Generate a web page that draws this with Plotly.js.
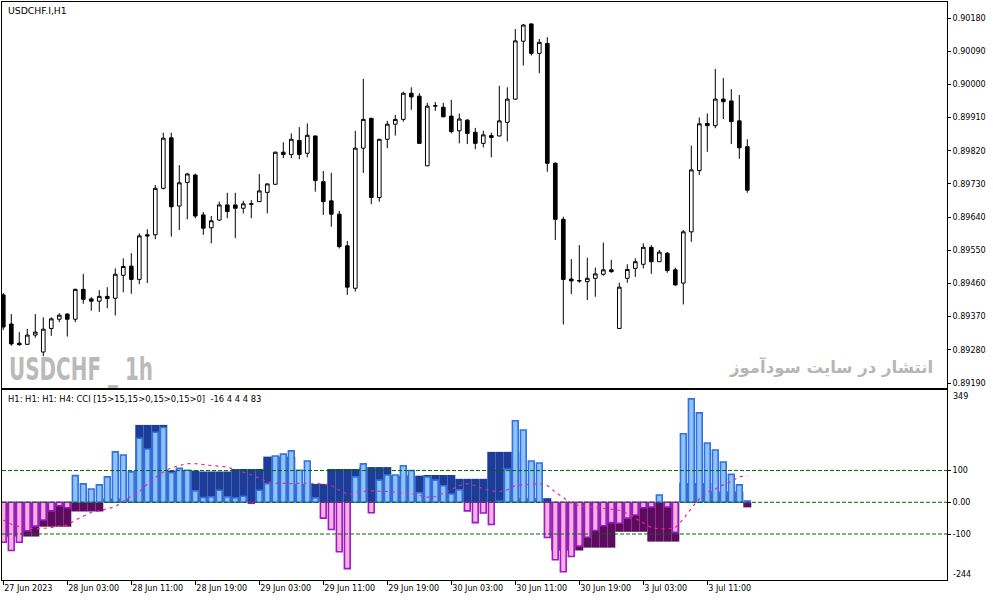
<!DOCTYPE html>
<html><head><meta charset="utf-8">
<script src="https://cdn.plot.ly/plotly-3.0.1.min.js"></script>
<style>html,body{margin:0;padding:0;background:#fff}#chart{width:993px;height:601px}</style>
</head><body><div id="chart"></div>
<script>
// ---- H1 candles (USDCHF.I, 27 Jun 2023 19:00 -> 3 Jul 2023 16:00) ----
const openP  = [0.89429,0.89350,0.89298,0.89295,0.89320,0.89274,0.89338,0.89363,0.89377,0.89363,
                0.89444,0.89418,0.89412,0.89425,0.89420,0.89482,0.89507,0.89471,0.89592,0.89592,
                0.89718,0.89855,0.89670,0.89734,0.89754,0.89646,0.89611,0.89632,0.89673,0.89673,
                0.89664,0.89676,0.89682,0.89707,0.89729,0.89816,0.89810,0.89848,0.89813,0.89860,
                0.89736,0.89684,0.89648,0.89562,0.89447,0.89827,0.89908,0.89693,0.89851,0.89892,
                0.89905,0.89976,0.89968,0.89779,0.89941,0.89938,0.89914,0.89874,0.89903,0.89870,
                0.89840,0.89861,0.89860,0.89897,0.89960,0.90117,0.90164,0.90084,0.90111,0.89786,
                0.89634,0.89472,0.89468,0.89465,0.89474,0.89485,0.89497,0.89338,0.89474,0.89501,
                0.89512,0.89558,0.89519,0.89542,0.89497,0.89461,0.89600,0.89766,0.89894,0.89888,
                0.89960,0.89955,0.89901,0.89831];
const highP  = [0.89434,0.89377,0.89328,0.89337,0.89377,0.89368,0.89368,0.89379,0.89379,0.89446,
                0.89486,0.89423,0.89442,0.89450,0.89501,0.89528,0.89542,0.89596,0.89607,0.89727,
                0.89869,0.89869,0.89781,0.89760,0.89758,0.89654,0.89643,0.89682,0.89706,0.89706,
                0.89684,0.89686,0.89757,0.89731,0.89818,0.89843,0.89867,0.89884,0.89894,0.89861,
                0.89765,0.89760,0.89657,0.89575,0.89874,0.90015,0.89909,0.89852,0.89901,0.89917,
                0.89980,0.89992,0.89976,0.89950,0.89952,0.89950,0.89958,0.89921,0.89906,0.89882,
                0.89874,0.89869,0.89996,0.89992,0.90150,0.90164,0.90165,0.90123,0.90128,0.89789,
                0.89641,0.89526,0.89564,0.89530,0.89503,0.89571,0.89524,0.89462,0.89512,0.89528,
                0.89569,0.89564,0.89551,0.89545,0.89503,0.89605,0.89834,0.89910,0.89921,0.90042,
                0.90017,0.89987,0.89971,0.89851];
const lowP   = [0.89334,0.89291,0.89291,0.89293,0.89313,0.89263,0.89318,0.89355,0.89316,0.89355,
                0.89405,0.89386,0.89383,0.89393,0.89373,0.89436,0.89432,0.89458,0.89461,0.89580,
                0.89715,0.89587,0.89605,0.89634,0.89637,0.89592,0.89569,0.89630,0.89637,0.89583,
                0.89650,0.89637,0.89681,0.89650,0.89728,0.89800,0.89800,0.89797,0.89802,0.89709,
                0.89646,0.89614,0.89555,0.89429,0.89438,0.89760,0.89675,0.89682,0.89827,0.89861,
                0.89899,0.89931,0.89839,0.89778,0.89928,0.89911,0.89867,0.89840,0.89838,0.89824,
                0.89829,0.89802,0.89859,0.89845,0.89958,0.90051,0.90078,0.90030,0.89763,0.89578,
                0.89349,0.89431,0.89462,0.89415,0.89424,0.89481,0.89489,0.89337,0.89462,0.89478,
                0.89501,0.89486,0.89518,0.89489,0.89454,0.89403,0.89573,0.89754,0.89817,0.89881,
                0.89906,0.89838,0.89798,0.89706];
const closeP = [0.89342,0.89296,0.89294,0.89320,0.89328,0.89336,0.89364,0.89374,0.89363,0.89444,
                0.89417,0.89412,0.89425,0.89419,0.89485,0.89506,0.89471,0.89589,0.89589,0.89718,
                0.89854,0.89668,0.89733,0.89757,0.89643,0.89610,0.89630,0.89673,0.89655,0.89664,
                0.89676,0.89675,0.89711,0.89730,0.89816,0.89810,0.89851,0.89810,0.89862,0.89739,
                0.89682,0.89648,0.89560,0.89450,0.89827,0.89905,0.89693,0.89851,0.89892,0.89905,
                0.89976,0.89966,0.89840,0.89941,0.89942,0.89912,0.89872,0.89906,0.89867,0.89840,
                0.89863,0.89856,0.89901,0.89960,0.90118,0.90161,0.90084,0.90114,0.89786,0.89634,
                0.89471,0.89467,0.89467,0.89474,0.89486,0.89497,0.89492,0.89450,0.89498,0.89519,
                0.89558,0.89519,0.89545,0.89495,0.89456,0.89600,0.89768,0.89893,0.89888,0.89960,
                0.89953,0.89899,0.89828,0.89713];

// ---- CCI(15) on H1, one value per candle ----
const cciH1 = [-126,-152,-126,-90,-75,-56,-27,-11,-17,84,58,42,55,80,159,149,96,202,168,221,236,
               93,107,101,36,15,17,38,17,14,19,-3,38,59,146,152,162,101,130,14,-50,
               -86,-156,-209,80,121,-33,70,86,86,115,100,30,80,70,52,26,39,-27,-64,-34,
               -70,4,105,257,228,130,124,-111,-181,-219,-171,-138,-110,-89,-74,-64,-66,-50,-40,-17,
               -15,23,-15,-95,216,326,282,187,165,127,88,55,4];
// ---- CCI(15) on H4, one value per H4 candle (first one is 27 Jun 16:00) ----
const cciH4 = [-110,-108,-77,-29,12,244,100,97,105,144,58,105,111,84,86,74,159,13,-152,-143,-93,-124,61,34,-16];
// ---- smoothed signal line (pink dashes), one value per candle ----
const signal = [-56,-69,-77,-82,-84,-82,-80,-74,-72,-56,-43,-32,-27,-21,-14,4,18,34,57,78,
                95,109,116,122,122,118,116,114,111,103,95,86,76,65,60,59,59,60,61,60,
                57,53,39,25,28,34,36,36,34,32,28,27,21,16,18,28,40,53,59,53,
                42,36,34,39,53,55,57,59,53,32,15,-3,-11,-15,-17,-19,-21,-25,-35,-50,
                -66,-80,-84,-84,-80,-53,-19,11,32,42,55,65,81,83];
const levels = [100, 0, -100];

// ---- axis labels ----
const priceTicks = [0.90180,0.90090,0.90000,0.89910,0.89820,0.89730,0.89640,0.89550,0.89460,0.89370,0.89280,0.89190];
const timeLabels = ['27 Jun 2023','28 Jun 03:00','28 Jun 11:00','28 Jun 19:00','29 Jun 03:00','29 Jun 11:00',
                    '29 Jun 19:00','30 Jun 03:00','30 Jun 11:00','30 Jun 19:00','3 Jul 03:00','3 Jul 11:00'];
const timeLabelBar = [0,8,16,24,32,40,48,56,64,72,80,88];
const firstBarHour = 19;

const n = openP.length;
const xs = openP.map((_, i) => i);
// H4 value that applies to each H1 candle
const h4PerBar = xs.map(i => cciH4[Math.floor((i + firstBarHour % 4) / 4)]);

const FONT = 'DejaVu Sans, Liberation Sans, sans-serif';

const traces = [
  {
    type: 'candlestick', x: xs, open: openP, high: highP, low: lowP, close: closeP,
    xaxis: 'x', yaxis: 'y',
    increasing: {line: {color: '#000', width: 1}, fillcolor: '#ffffff'},
    decreasing: {line: {color: '#000', width: 1}, fillcolor: '#000000'},
    whiskerwidth: 0, hoverinfo: 'skip', showlegend: false
  },
  {
    type: 'bar', x: xs, y: h4PerBar, width: 1, xaxis: 'x2', yaxis: 'y2',
    marker: {color: h4PerBar.map(v => v >= 0 ? '#1b3c98' : '#5e0a5e'), line: {width: 0}},
    hoverinfo: 'skip', showlegend: false
  },
  {
    type: 'bar', x: xs, y: cciH1, width: 0.72, xaxis: 'x2', yaxis: 'y2',
    marker: {
      color: cciH1.map(v => v >= 0 ? '#8cc4fa' : '#f8b2d6'),
      line: {color: cciH1.map(v => v >= 0 ? '#3470e2' : '#9d16d4'), width: 1.6}
    },
    hoverinfo: 'skip', showlegend: false
  },
  {
    type: 'scatter', mode: 'lines', x: xs, y: signal, xaxis: 'x2', yaxis: 'y2',
    line: {color: '#e8288c', width: 1.2, dash: '3px,4px'},
    hoverinfo: 'skip', showlegend: false
  }
];

const shapes = levels.map(v => ({
  type: 'line', xref: 'x2 domain', x0: 0, x1: 1, yref: 'y2', y0: v, y1: v,
  line: {color: '#006a00', width: 1, dash: '4px,2px'}
}));

const xRange = [-0.16, 117.96];
const layout = {
  width: 993, height: 601,
  margin: {l: 2, r: 46, t: 2, b: 21},
  paper_bgcolor: '#ffffff', plot_bgcolor: '#ffffff',
  barmode: 'overlay', boxgap: 0.35,
  font: {family: FONT, size: 8, color: '#000'},
  showlegend: false,
  xaxis: {
    domain: [0, 1], range: xRange, anchor: 'y', rangeslider: {visible: false},
    showgrid: false, zeroline: false, showticklabels: false, ticks: '',
    showline: true, mirror: true, linecolor: '#000', linewidth: 1
  },
  yaxis: {
    domain: [0.3322, 1], range: [0.891765, 0.902234], side: 'right', anchor: 'x',
    tickvals: priceTicks, ticktext: priceTicks.map(v => v.toFixed(5)),
    ticks: 'outside', ticklen: 3, tickcolor: '#000', tickfont: {family: FONT, size: 8, color: '#000'},
    showgrid: false, zeroline: false, showline: true, mirror: true, linecolor: '#000', linewidth: 1
  },
  xaxis2: {
    domain: [0, 1], range: xRange, anchor: 'y2',
    tickvals: timeLabelBar, ticktext: timeLabels, ticklabelposition: 'outside right',
    ticks: 'outside', ticklen: 4, tickcolor: '#000', tickfont: {family: FONT, size: 8, color: '#000'},
    showgrid: false, zeroline: false, showline: true, mirror: true, linecolor: '#000', linewidth: 1
  },
  yaxis2: {
    domain: [0, 0.3287], range: [-245, 354], side: 'right', anchor: 'x2',
    tickvals: levels, ticktext: ['100', '0.00', '-100'],
    ticks: 'outside', ticklen: 3, tickcolor: '#000', tickfont: {family: FONT, size: 8, color: '#000'},
    showgrid: false, zeroline: false, showline: true, mirror: true, linecolor: '#000', linewidth: 1
  },
  shapes: shapes,
  annotations: [
    {xref: 'paper', yref: 'paper', x: 0.0045, y: 0.986, xanchor: 'left', yanchor: 'middle', showarrow: false,
     text: 'USDCHF.I,H1', font: {family: FONT, size: 9.3, color: '#000'}},
    {xref: 'paper', yref: 'paper', x: 0.0045, y: 0.314, xanchor: 'left', yanchor: 'middle', showarrow: false,
     text: 'H1: H1: H1: H4: CCI [15>15,15>0,15>0,15>0]  ' + [cciH4[cciH4.length - 1], cciH1[n - 1], cciH1[n - 1], cciH1[n - 1], signal[n - 1]].join(' '),
     font: {family: FONT, size: 8.4, color: '#000'}},
    {xref: 'paper', yref: 'y2', x: 1, y: 349, xanchor: 'left', yanchor: 'middle', xshift: 4, yshift: -5,
     showarrow: false, text: '349', font: {family: FONT, size: 8, color: '#000'}},
    {xref: 'paper', yref: 'y2', x: 1, y: -244, xanchor: 'left', yanchor: 'middle', xshift: 4, yshift: 5,
     showarrow: false, text: '-244', font: {family: FONT, size: 8, color: '#000'}},
    {xref: 'paper', yref: 'paper', x: 0.005, y: 0.365, xanchor: 'left', yanchor: 'middle', showarrow: false,
     text: '<b>USDCHF _ 1h</b>', font: {family: 'DejaVu Sans, sans-serif', size: 32, color: '#bababa'}},
    {xref: 'paper', yref: 'paper', x: 0.987, y: 0.3685, xanchor: 'right', yanchor: 'middle', showarrow: false,
     text: '<b>انتشار در سایت سودآموز</b>', font: {family: 'DejaVu Sans, sans-serif', size: 16.5, color: '#b6b6b6'}}
  ]
};

Plotly.newPlot('chart', traces, layout, {staticPlot: true, displayModeBar: false}).then(gd => {
  // condense the big watermark horizontally (it is drawn in a condensed face in the original)
  gd.querySelectorAll('.annotation-text').forEach(t => {
    if (t.textContent.indexOf('USDCHF _') === 0) {
      const bb = t.getBBox();
      const target = 144;
      const s = target / bb.width;
      const prev = t.getAttribute('transform') || '';
      t.setAttribute('transform', prev + ' translate(' + bb.x + ',0) scale(' + s + ',1) translate(' + (-bb.x) + ',0)');
    }
  });
});
</script>
</body></html>
